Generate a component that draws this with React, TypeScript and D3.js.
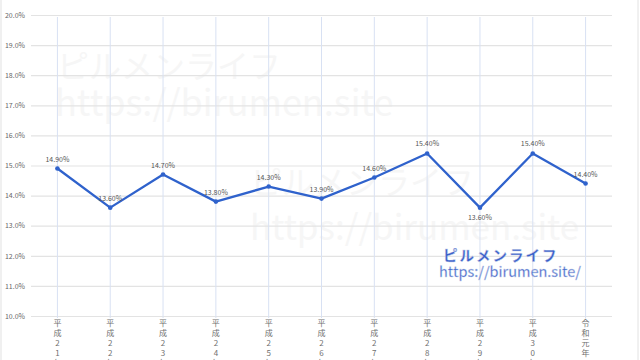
import React, { useEffect, useRef } from 'react'
import * as d3 from 'd3'

// Fiscal years (vertical labels) and rates
const years = ['平成21年', '平成22年', '平成23年', '平成24年', '平成25年', '平成26年', '平成27年', '平成28年', '平成29年', '平成30年', '令和元年']
const rates = [0.149, 0.136, 0.147, 0.138, 0.143, 0.139, 0.146, 0.154, 0.136, 0.154, 0.144]
const labelBelow = [false, false, false, false, false, false, false, false, true, false, false]
const yTicks = [0.10, 0.11, 0.12, 0.13, 0.14, 0.15, 0.16, 0.17, 0.18, 0.19, 0.20]

const W = 640
const H = 360
const margin = { top: 15, right: 28, bottom: 44, left: 31 }
const FONT = '"Noto Sans CJK JP", "Open Sans", sans-serif'

const YAxis = ({ scale, width }) => {
    const axis = useRef(null)
    useEffect(() => {
        const g = d3.select(axis.current)
        g.call(
            d3.axisLeft(scale)
                .tickValues(yTicks)
                .tickFormat(d3.format('.1%'))
                .tickSize(-width)
                .tickPadding(6)
        )
        g.select('.domain').remove()
        g.selectAll('line').attr('stroke', '#e3e3e3').attr('stroke-width', 1.2)
        g.selectAll('text')
            .attr('fill', '#666')
            .attr('font-size', 7)
            .attr('font-family', FONT)
    })
    return <g className='axis y' ref={axis} transform={`translate(${margin.left}, 0)`} />
}

const XGrid = ({ scale, top, bottom }) => {
    const axis = useRef(null)
    useEffect(() => {
        const g = d3.select(axis.current)
        g.call(d3.axisBottom(scale).tickSize(-(bottom - top)).tickFormat(() => ''))
        g.select('.domain').remove()
        g.selectAll('line').attr('stroke', '#d8e1f3').attr('stroke-width', 1)
    })
    return <g className='axis x' ref={axis} transform={`translate(0, ${bottom + 2})`} />
}

const App = () => {
    const x = d3
        .scaleBand()
        .domain(years)
        .range([margin.left, W - margin.right])

    const y = d3
        .scaleLinear()
        .domain([0.10, 0.20])
        .range([H - margin.bottom, margin.top])

    const cx = d => x(d) + x.bandwidth() / 2

    const line = d3
        .line()
        .x((d, i) => cx(years[i]))
        .y(d => y(d))

    const fmt = d3.format('.2%')

    return (
        <svg width={W} height={H} style={{ position: 'absolute', left: 0, top: 0, background: '#fff' }}>
            <rect x={1} y={-2} width={W - 3} height={H + 4} fill='none' stroke='#e2e2e2' />

            {/* faint watermarks */}
            <g fill='#f6f6f6' fontFamily={FONT}>
                <text x={57} y={78} fontSize={32}>ピルメンライフ</text>
                <text x={55} y={116} fontSize={36}>https://birumen.site</text>
                <text x={250} y={194} fontSize={32}>ピルメンライフ</text>
                <text x={250} y={240} fontSize={35}>https://birumen.site</text>
            </g>

            <YAxis scale={y} width={W - margin.left - margin.right} />
            <XGrid scale={x} top={margin.top} bottom={H - margin.bottom} />

            <path d={line(rates)} fill='none' stroke='#2f62cc' strokeWidth={2.3} strokeLinejoin='round' />
            {rates.map((r, i) => (
                <circle key={years[i]} cx={cx(years[i])} cy={y(r)} r={2.3} fill='#2f62cc' />
            ))}
            {rates.map((r, i) => (
                <text
                    key={'l' + years[i]}
                    x={cx(years[i])}
                    y={labelBelow[i] ? y(r) + 12 : y(r) - 7}
                    textAnchor='middle'
                    fontSize={7}
                    fill='#555'
                    fontFamily={FONT}
                >
                    {fmt(r)}
                </text>
            ))}

            {/* vertical category labels */}
            {years.map(yr => (
                <text key={'x' + yr} textAnchor='middle' fontSize={8} fill='#707070' fontFamily={FONT}>
                    {Array.from(yr).map((ch, j) => (
                        <tspan key={j} x={cx(yr)} y={326 + j * 10}>{ch}</tspan>
                    ))}
                </text>
            ))}

            {/* blue watermark */}
            <g fontFamily={FONT} fill='#3a5fc9' stroke='#c9d2ea' strokeWidth={0.4}>
                <text x={443} y={261} fontSize={14.5} fontWeight='bold' letterSpacing={2}>ピルメンライフ</text>
                <text x={439} y={277} fontSize={14.5}>https://birumen.site/</text>
            </g>
        </svg>
    )
}

export default App
